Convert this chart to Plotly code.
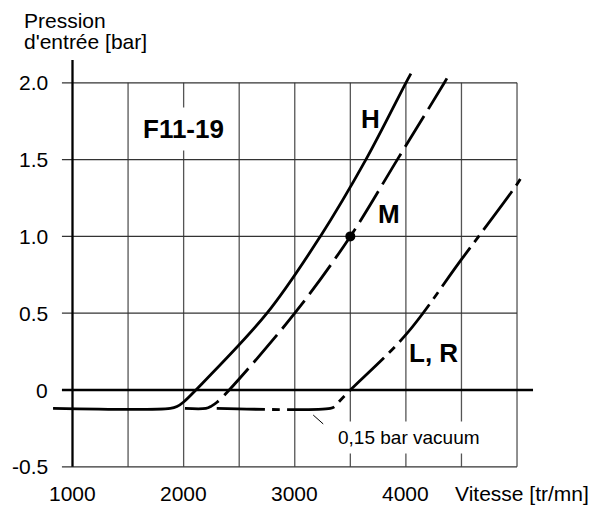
import plotly.graph_objects as go

# ---- data ----
h_speed = [825, 1880, 1940, 2000, 2110, 2750, 3230, 3640, 4000, 4045]
h_pressure = [-0.12, -0.12, -0.108, -0.078, 0.0, 0.5, 1.0, 1.5, 2.0, 2.06]

m_speed = [2012, 2200, 2250, 2300, 2410, 3000, 3500, 3923, 4346, 4370]
m_pressure = [-0.12, -0.12, -0.105, -0.08, 0.0, 0.5, 1.0, 1.5, 2.0, 2.03]

lr_speed = [2298, 3320, 3360, 3400, 3500, 4000, 4500, 5000, 5050]
lr_pressure = [-0.12, -0.12, -0.108, -0.075, 0.0, 0.36, 0.85, 1.34, 1.40]

point_speed = [3500]
point_pressure = [1.0]

x_tick_vals = [1000, 2000, 3000, 4000]
x_tick_labels = ["1000", "2000", "3000", "4000"]
y_tick_vals = [2.0, 1.5, 1.0, 0.5, 0.0, -0.5]
y_tick_labels = ["2.0", "1.5", "1.0", "0.5", "0", "-0.5"]
grid_x = [1500, 2000, 2500, 3000, 3500, 4000, 4500, 5000]
grid_y = [2.0, 1.5, 1.0, 0.5, -0.5]

x_min, x_max = 1000, 5000
y_min, y_max = -0.5, 2.0

FONT = "Liberation Sans, Arial, Helvetica, sans-serif"

fig = go.Figure()

# curves
fig.add_trace(go.Scatter(x=h_speed, y=h_pressure, mode="lines",
                         line=dict(color="black", width=2.8, shape="spline", smoothing=1.0)))
fig.add_trace(go.Scatter(x=m_speed, y=m_pressure, mode="lines",
                         line=dict(color="black", width=2.8, dash="36px,8px", shape="spline", smoothing=1.0)))
fig.add_trace(go.Scatter(x=lr_speed, y=lr_pressure, mode="lines",
                         line=dict(color="black", width=2.8, dash="48px,7px,8px,7px", shape="spline", smoothing=1.0)))
fig.add_trace(go.Scatter(x=point_speed, y=point_pressure, mode="markers",
                         marker=dict(color="black", size=10)))

shapes = []
# vertical grid lines
for gx in grid_x:
    shapes.append(dict(type="line", x0=gx, x1=gx, y0=y_min, y1=y_max, xref="x", yref="y",
                       line=dict(color="#555555", width=1.3), layer="below"))
# horizontal grid lines (with tick stubs on the left)
for gy in grid_y:
    shapes.append(dict(type="line", x0=905, x1=x_max, y0=gy, y1=gy, xref="x", yref="y",
                       line=dict(color="#333333", width=1.3), layer="below"))
# zero line
shapes.append(dict(type="line", x0=905, x1=5144, y0=0, y1=0, xref="x", yref="y",
                   line=dict(color="black", width=2.3), layer="below"))
# y axis line
shapes.append(dict(type="line", x0=x_min, x1=x_min, y0=y_min, y1=2.148, xref="x", yref="y",
                   line=dict(color="black", width=2.3), layer="below"))
# leader line for the vacuum label
shapes.append(dict(type="line", x0=3166, x1=3256, y0=-0.163, y1=-0.221, xref="x", yref="y",
                   line=dict(color="black", width=1)))

annotations = []
for v, t in zip(y_tick_vals, y_tick_labels):
    annotations.append(dict(x=797.5, y=v, text=t, xanchor="right", yanchor="middle",
                            showarrow=False, font=dict(family=FONT, size=21, color="black")))
for v, t in zip(x_tick_vals, x_tick_labels):
    annotations.append(dict(x=v, y=-0.677, text=t, xanchor="center", yanchor="middle",
                            showarrow=False, font=dict(family=FONT, size=21, color="black")))
annotations += [
    dict(x=4421, y=-0.677, text="Vitesse [tr/mn]", xanchor="left", yanchor="middle",
         showarrow=False, font=dict(family=FONT, size=21, color="black")),
    dict(x=543, y=2.4056, text="Pression", xanchor="left", yanchor="middle",
         showarrow=False, font=dict(family=FONT, size=21, color="black")),
    dict(x=543, y=2.272, text="d'entrée [bar]", xanchor="left", yanchor="middle",
         showarrow=False, font=dict(family=FONT, size=21, color="black")),
    dict(x=1999, y=1.70, text="<b>F11-19</b>", xanchor="center", yanchor="middle",
         showarrow=False, bgcolor="white", borderpad=6,
         font=dict(family=FONT, size=26, color="black")),
    dict(x=3684, y=1.766, text="<b>H</b>", xanchor="center", yanchor="middle",
         showarrow=False, font=dict(family=FONT, size=26, color="black")),
    dict(x=3848, y=1.146, text="<b>M</b>", xanchor="center", yanchor="middle",
         showarrow=False, font=dict(family=FONT, size=26, color="black")),
    dict(x=4250, y=0.241, text="<b>L, R</b>", xanchor="center", yanchor="middle",
         showarrow=False, font=dict(family=FONT, size=26, color="black")),
    dict(x=4029, y=-0.306, text="0,15 bar vacuum", xanchor="center", yanchor="middle",
         showarrow=False, bgcolor="white", borderpad=5,
         font=dict(family=FONT, size=19, color="black")),
]

fig.update_layout(
    width=595, height=508,
    margin=dict(l=0, r=0, t=0, b=0, pad=0),
    paper_bgcolor="white", plot_bgcolor="white",
    showlegend=False,
    xaxis=dict(range=[347.6, 5701.7], visible=False, fixedrange=True),
    yaxis=dict(range=[-0.7682, 2.5391], visible=False, fixedrange=True),
    shapes=shapes, annotations=annotations,
)

fig.write_html("out.html", config={"displayModeBar": False},
               post_script="document.body.style.margin='0';document.body.style.overflow='hidden';")
